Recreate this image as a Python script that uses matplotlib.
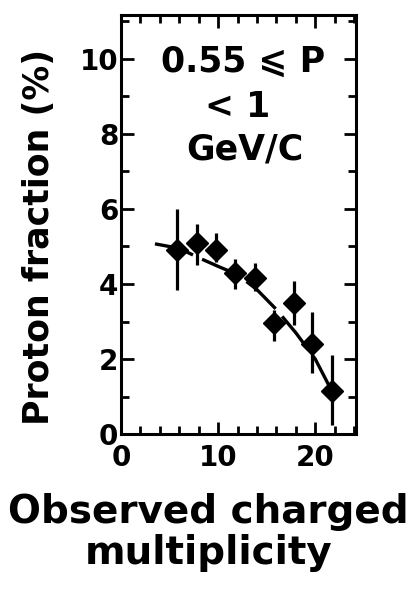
import matplotlib
matplotlib.use('Agg')
import matplotlib.pyplot as plt
from matplotlib.ticker import MultipleLocator

plt.rcParams['font.family'] = ['DejaVu Sans']
plt.rcParams['font.weight'] = 'bold'

# Proton fraction vs observed charged multiplicity
mult = [5.8, 7.8, 9.8, 11.7, 13.8, 15.7, 17.8, 19.7, 21.7]
frac = [4.9, 5.1, 4.9, 4.3, 4.15, 2.95, 3.5, 2.4, 1.15]
err_lo = [1.05, 0.6, 0.32, 0.42, 0.33, 0.48, 0.6, 0.77, 0.9]
err_hi = [1.1, 0.5, 0.45, 0.37, 0.4, 0.36, 0.57, 0.85, 0.95]

# fitted curve
fit_x = [3.5, 6, 8, 10, 12, 14, 16, 18, 20, 21.7]
fit_y = [5.07, 4.95, 4.7, 4.47, 4.25, 3.85, 3.32, 2.7, 2.0, 1.15]

fig = plt.figure(figsize=(4.17, 5.9), dpi=100)
ax = fig.add_axes([0.290, 0.264, 0.564, 0.711])

ax.plot(fit_x, fit_y, color='black', lw=2.4, dashes=(12, 3))
ax.errorbar(mult, frac, yerr=[err_lo, err_hi], fmt='D', color='black',
            ms=11, elinewidth=2.3, capsize=0)

ax.set_xlim(0, 24.2)
ax.set_ylim(0, 11.17)
ax.xaxis.set_major_locator(MultipleLocator(10))
ax.xaxis.set_minor_locator(MultipleLocator(2))
ax.yaxis.set_major_locator(MultipleLocator(2))
ax.yaxis.set_minor_locator(MultipleLocator(1))

for s in ax.spines.values():
    s.set_linewidth(2.2)
ax.tick_params(which='both', direction='in', top=True, right=True, width=2, labelsize=20)
ax.tick_params(which='major', length=9)
ax.tick_params(which='minor', length=6)
ax.tick_params(axis='y', pad=2)
ax.tick_params(axis='x', pad=7)
for lab in ax.get_xticklabels() + ax.get_yticklabels():
    lab.set_fontweight('bold')
# zero on the y axis sits a little higher than the others
ax.get_yticklabels()[0].set_verticalalignment('center_baseline')

ax.text(0.52, 0.888, '0.55 \u2a7d P', transform=ax.transAxes, ha='center', va='center',
        fontsize=25, fontweight='bold')
ax.text(0.495, 0.781, '< 1', transform=ax.transAxes, ha='center', va='center',
        fontsize=25, fontweight='bold')
ax.text(0.525, 0.679, 'GeV/C', transform=ax.transAxes, ha='center', va='center',
        fontsize=25, fontweight='bold')

fig.text(0.094, 0.598, 'Proton fraction (%)', rotation=90, ha='center', va='center',
         fontsize=25, fontweight='bold')
fig.text(0.5, 0.132, 'Observed charged', ha='center', va='center',
         fontsize=28, fontweight='bold')
fig.text(0.5, 0.063, 'multiplicity', ha='center', va='center',
         fontsize=28, fontweight='bold')

fig.savefig('out.png', dpi=100)
